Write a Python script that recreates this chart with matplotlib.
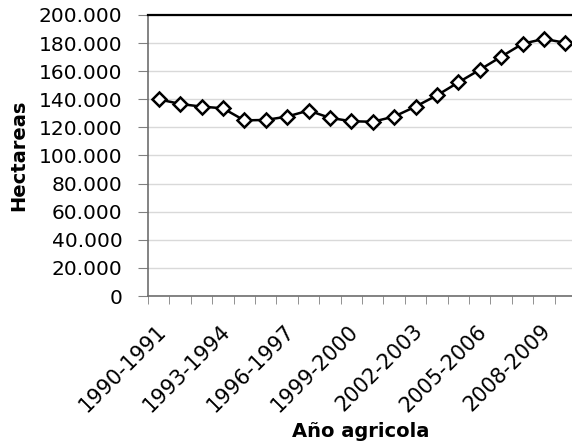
import numpy as np
import matplotlib
matplotlib.use("Agg")
import matplotlib.pyplot as plt
import matplotlib.transforms as mtransforms
from matplotlib.ticker import FuncFormatter, FixedLocator

# Superficie por año agricola (hectareas)
seasons = [f"{y}-{y + 1}" for y in range(1990, 2010)]
hectareas = [140000, 136700, 134800, 133600, 125000, 125300, 127700, 132000,
             126800, 124400, 124000, 127700, 134800, 142800, 152000, 161000,
             170300, 179500, 183000, 180200]
label_every = 3

plt.rcParams['font.family'] = ['DejaVu Sans']

fig = plt.figure(figsize=(5.72, 4.45), dpi=100)
ax = fig.add_axes([148 / 572, 1 - 296 / 445, 428 / 572, 281 / 445])

x = np.arange(len(seasons))
ax.plot(x, hectareas, color='black', lw=1.8, marker='D', ms=7.5,
        mfc='white', mec='black', mew=1.8, zorder=3)

ax.set_xlim(-0.5, len(seasons) - 0.5)
ax.set_ylim(0, 200000)
ax.set_yticks(np.arange(0, 200001, 20000))
ax.yaxis.set_major_formatter(FuncFormatter(lambda v, p: f"{int(v):,}".replace(",", ".")))
ax.grid(axis='y', color='#d9d9d9', lw=1)
ax.set_axisbelow(True)

# ticks between categories, labels on every third season
ax.xaxis.set_minor_locator(FixedLocator(np.arange(-0.5, len(seasons), 1)))
ax.set_xticks(x[::label_every])
ax.set_xticklabels(seasons[::label_every], rotation=45, ha='right', va='center',
                   rotation_mode='anchor')
ax.tick_params(axis='x', which='major', length=0, pad=23, labelsize=15)
ax.tick_params(axis='x', which='minor', length=6, color='#808080')
ax.tick_params(axis='y', length=7, color='#808080', labelsize=14.5, pad=11.5)
shift = mtransforms.ScaledTranslation(0.04, 0, fig.dpi_scale_trans)
for lbl in ax.get_xticklabels():
    lbl.set_transform(lbl.get_transform() + shift)

for s in ['left', 'bottom']:
    ax.spines[s].set_color('#6e6e6e')
    ax.spines[s].set_linewidth(1.2)
ax.spines['top'].set_color('black')
ax.spines['top'].set_linewidth(1.6)
ax.spines['right'].set_visible(False)

fig.text(0.033, 1 - 155 / 445, 'Hectareas', fontweight='bold', fontsize=14,
         rotation=90, ha='center', va='center')
fig.text(361 / 572, 1 - 437 / 445, 'Año agricola', fontweight='bold', fontsize=14,
         ha='center', va='baseline')

fig.savefig('out.png', dpi=100)
